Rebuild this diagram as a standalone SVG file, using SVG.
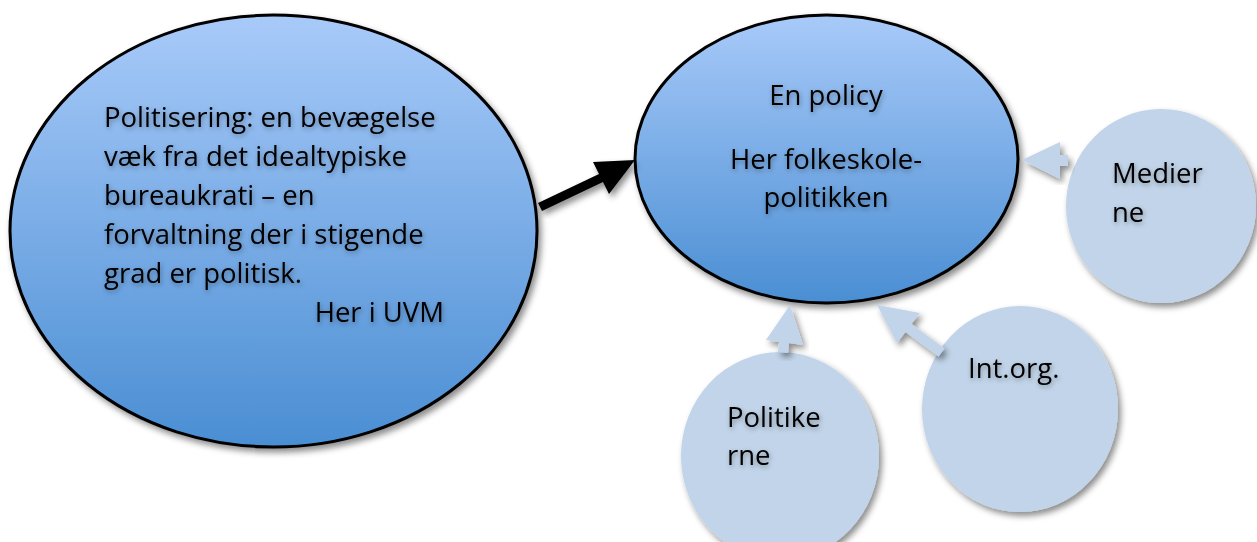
<svg xmlns="http://www.w3.org/2000/svg" width="1257" height="542" viewBox="0 0 1257 542">
<defs>
<linearGradient id="blueGrad" x1="0" y1="0" x2="0" y2="1">
<stop offset="0" stop-color="#a8caf9"/>
<stop offset="1" stop-color="#4a8ed3"/>
</linearGradient>
<filter id="shadow" x="-10%" y="-10%" width="125%" height="125%">
<feDropShadow dx="3" dy="4" stdDeviation="3" flood-color="#000" flood-opacity="0.45"/>
</filter>
<filter id="tshadow" x="-10%" y="-30%" width="125%" height="170%">
<feDropShadow dx="1" dy="2" stdDeviation="2.5" flood-color="#000" flood-opacity="0.35"/>
</filter>
</defs>
<style>
.main{fill:url(#blueGrad);stroke:#000;stroke-width:3}
.light{fill:#c1d4e9}
.arrowL{fill:#c1d4e9}
.t{font-family:"Open Sans","Noto Sans",sans-serif;font-size:27.5px;fill:#000}
.c{text-anchor:middle}
</style>
<rect width="1257" height="542" fill="#fff"/>
<g id="node-politisering">
<ellipse class="main" cx="273.5" cy="231" rx="263.5" ry="216" filter="url(#shadow)"/>
<g class="t" filter="url(#tshadow)">
<text x="104" y="127">Politisering: en bevægelse</text>
<text x="104" y="166">væk fra det idealtypiske</text>
<text x="104" y="205">bureaukrati – en</text>
<text x="104" y="244">forvaltning der i stigende</text>
<text x="104" y="283">grad er politisk.</text>
<text x="444" y="322" text-anchor="end">Her i UVM</text>
</g>
</g>
<g id="node-policy">
<ellipse class="main" cx="826.5" cy="159" rx="191.5" ry="144" filter="url(#shadow)"/>
<g class="t c" filter="url(#tshadow)">
<text x="826" y="105">En policy</text>
<text x="826" y="169">Her folkeskole-</text>
<text x="826" y="207">politikken</text>
</g>
</g>
<g id="node-medierne">
<ellipse class="light" cx="1161" cy="206" rx="95" ry="97" filter="url(#shadow)"/>
<g class="t" filter="url(#tshadow)">
<text x="1112" y="183">Medier</text>
<text x="1112" y="222">ne</text>
</g>
</g>
<g id="node-intorg">
<ellipse class="light" cx="1020" cy="409" rx="98" ry="103" filter="url(#shadow)"/>
<g class="t" filter="url(#tshadow)">
<text x="968" y="378">Int.org.</text>
</g>
</g>
<g id="node-politikerne">
<ellipse class="light" cx="780" cy="456" rx="99" ry="104" filter="url(#shadow)"/>
<g class="t" filter="url(#tshadow)">
<text x="727" y="427">Politike</text>
<text x="727" y="465">rne</text>
</g>
</g>
<g id="connectors">
<polygon fill="#000" filter="url(#shadow)" points="538,203 599,174 593,162 635,160 609,194 603,182 542,211"/>
<polygon class="arrowL" filter="url(#shadow)" points="1022,160 1060,142 1060,155 1068,155 1068,166 1060,166 1060,179"/>
<polygon class="arrowL" filter="url(#shadow)" points="790,305 803,345 789,343 788,353 778,352 779,342 766,340"/>
<polygon class="arrowL" filter="url(#shadow)" points="877,305 920,313 911.5,324 944.5,348.4 938.5,356.4 905.5,332 897,343"/>
</g>
</svg>
